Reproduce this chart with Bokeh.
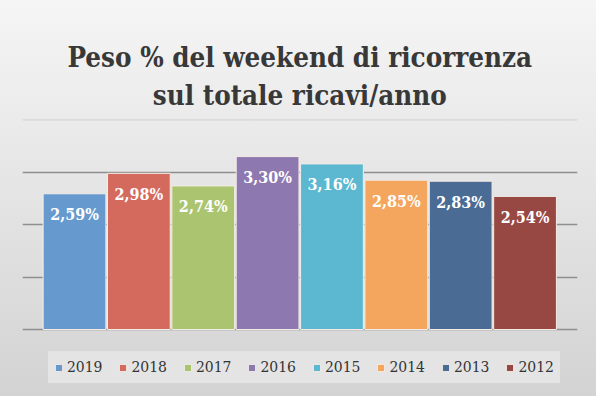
from bokeh.plotting import figure
from bokeh.models import ColumnDataSource, Label, Legend, LegendItem, Range1d, FixedTicker, Span
from bokeh.core.properties import value
from bokeh.embed import file_html
from bokeh.resources import INLINE

years = ["2019", "2018", "2017", "2016", "2015", "2014", "2013", "2012"]
values = [2.59, 2.98, 2.74, 3.30, 3.16, 2.85, 2.83, 2.54]
colors = ["#6699CD", "#D46A5E", "#ABC46F", "#8E78B0", "#5CB8D0", "#F5A65E", "#4A6B94", "#974842"]
grid_levels = [0, 1, 2, 3]
top_level = 4
title_lines = ["Peso % del weekend di ricorrenza", "sul totale ricavi/anno"]

FONT = "DejaVu Serif Condensed"

labels = [("%.2f" % v).replace(".", ",") + "%" for v in values]
xs = list(range(len(years)))
src = ColumnDataSource(dict(x=xs, top=values, year=years, color=colors, label=labels))

p = figure(output_backend="svg", toolbar_location=None,
           frame_width=555, frame_height=396,
           x_range=Range1d(-0.808, 7.815), y_range=Range1d(-1.2786, 6.2786),
           min_border_left=22, min_border_right=19, min_border_top=0, min_border_bottom=0)
p.styles = {"background": "linear-gradient(#f5f5f5, #d3d3d3)"}
p.border_fill_alpha = 0
p.background_fill_alpha = 0
p.outline_line_alpha = 0
p.xaxis.visible = False
p.yaxis.visible = False
p.xgrid.visible = False
p.ygrid.ticker = FixedTicker(ticks=grid_levels)
p.ygrid.grid_line_color = "#8e8e8e"
p.ygrid.grid_line_width = 1.4
p.add_layout(Span(location=top_level, dimension="width", line_color="#d6d6d6", line_width=1.2))

r = p.vbar(x="x", top="top", bottom=0, width=0.975, fill_color="color",
           line_color="#f3ece6", line_width=1, source=src)

p.text(x="x", y="top", text="label", source=src, text_align="center", text_baseline="middle",
       y_offset=21, text_color="white", text_font=value(FONT),
       text_font_style="bold", text_font_size="16px")

for t, yy in [(title_lines[0], 340), (title_lines[1], 302)]:
    p.add_layout(Label(x=3.5, y=yy, y_units="screen", text=t, text_align="center",
                       text_baseline="alphabetic", text_font=FONT, text_font_style="bold",
                       text_font_size="27.5px", text_color="#383838"))

items = [LegendItem(label=years[i], renderers=[r], index=i) for i in range(len(years))]
legend = Legend(items=items, orientation="horizontal", location=(26, 13),
                glyph_width=9, glyph_height=9, label_standoff=4, spacing=16,
                padding=6, margin=0, background_fill_color="#e4e4e4", background_fill_alpha=1,
                border_line_alpha=0, label_text_font=FONT,
                label_text_font_size="15.5px", label_text_color="#333333", label_height=20)
p.add_layout(legend)

open("out.html", "w").write(file_html(p, INLINE))
